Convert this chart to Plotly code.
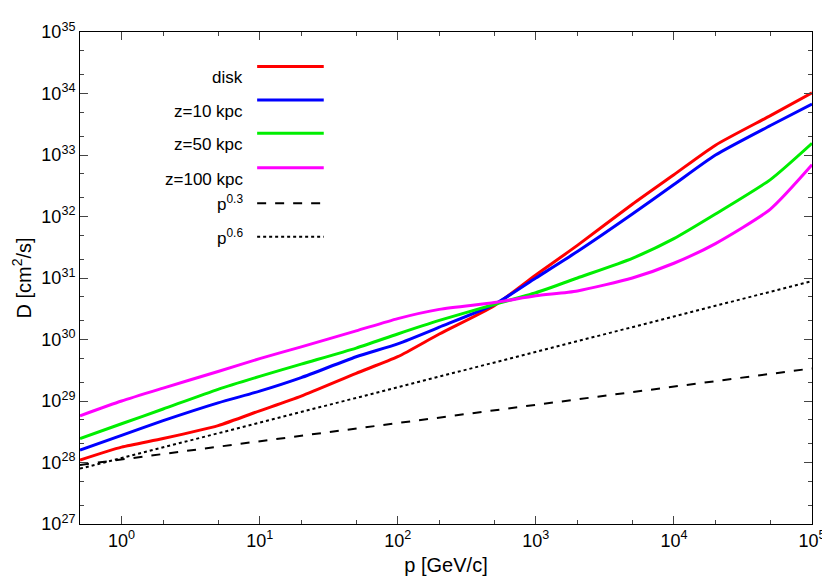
import plotly.graph_objects as go

p = [0.5, 1, 2, 5, 10, 20, 50, 100, 200, 500, 1e3, 2e3, 5e3, 1e4, 2e4, 5e4, 1e5]
# log10 of D [cm^2/s]
disk = [28.04, 28.25, 28.39, 28.6, 28.84, 29.08, 29.45, 29.72, 30.09, 30.55, 31.05, 31.53, 32.2, 32.68, 33.16, 33.64, 34.01]
z10 = [28.2, 28.44, 28.68, 28.97, 29.16, 29.38, 29.72, 29.93, 30.2, 30.57, 31.0, 31.43, 32.04, 32.52, 33.0, 33.48, 33.83]
z50 = [28.39, 28.63, 28.87, 29.19, 29.4, 29.6, 29.86, 30.09, 30.31, 30.57, 30.76, 31.0, 31.32, 31.64, 32.04, 32.6, 33.19]
z100 = [28.76, 29.0, 29.21, 29.48, 29.69, 29.88, 30.14, 30.34, 30.49, 30.6, 30.71, 30.79, 31.0, 31.24, 31.56, 32.12, 32.84]
p_ref = [0.5, 1e5]
pow03 = [27.96, 29.53]
pow06 = [27.9, 30.95]

series = [
    ("disk", p, disk, "#ff0000", "solid"),
    ("z=10 kpc", p, z10, "#0000ff", "solid"),
    ("z=50 kpc", p, z50, "#00ee00", "solid"),
    ("z=100 kpc", p, z100, "#ff00ff", "solid"),
    ("p<sup>0.3</sup>", p_ref, pow03, "black", "dash"),
    ("p<sup>0.6</sup>", p_ref, pow06, "black", "dot"),
]

fig = go.Figure()
leg_y = [0.93, 0.862, 0.794, 0.724, 0.652, 0.584]
for (name, xs, ys, col, dash), ly in zip(series, leg_y):
    w = 3 if dash == "solid" else 2
    fig.add_trace(go.Scatter(x=xs, y=[10 ** v for v in ys], mode="lines",
                             line=dict(color=col, width=w, dash=dash,
                                       shape="spline", smoothing=0.6),
                             showlegend=False))
    fig.add_annotation(x=0.225, y=ly, xref="paper", yref="paper", text=name,
                       showarrow=False, xanchor="right", font=dict(size=17))
    fig.add_shape(type="line", xref="paper", yref="paper", x0=0.242, x1=0.333,
                  y0=ly, y1=ly, line=dict(color=col, width=w, dash=dash))

xt = [1, 10, 100, 1e3, 1e4, 1e5]
yt = [10.0 ** k for k in range(27, 36)]
fig.update_xaxes(type="log", range=[-0.301, 5], tickvals=xt,
                 ticktext=["10<sup>%d</sup>" % k for k in range(6)],
                 ticks="inside", ticklen=8, mirror="ticks", showline=True,
                 linecolor="black", showgrid=False, zeroline=False,
                 minor=dict(ticks="inside", ticklen=4),
                 tickfont=dict(size=18),
                 title=dict(text="p [GeV/c]", standoff=8))
fig.update_yaxes(type="log", range=[27, 35], tickvals=yt,
                 ticktext=["10<sup>%d</sup>" % k for k in range(27, 36)],
                 ticks="inside", ticklen=8, mirror="ticks", showline=True,
                 linecolor="black", showgrid=False, zeroline=False,
                 minor=dict(ticks="inside", ticklen=4),
                 tickfont=dict(size=18),
                 title=dict(text="D [cm<sup>2</sup>/s]", standoff=4))
fig.update_layout(width=830, height=580, plot_bgcolor="white", paper_bgcolor="white",
                  margin=dict(l=72, r=22, t=14, b=64),
                  font=dict(family="Liberation Sans, Arial", size=17, color="black"))
fig.write_html("out.html")
